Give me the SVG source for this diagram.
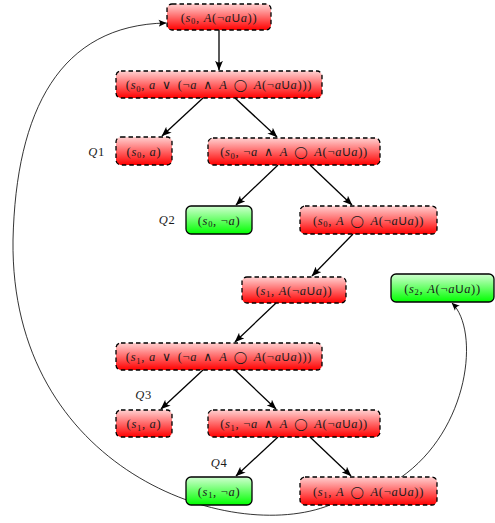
<svg xmlns="http://www.w3.org/2000/svg" width="495" height="523" viewBox="0 0 495 523">
<defs>
<linearGradient id="gr" x1="0" y1="0" x2="0" y2="1">
<stop offset="0" stop-color="#ffd0d0"/>
<stop offset="1" stop-color="#ff0000"/>
</linearGradient>
<linearGradient id="gg" x1="0" y1="0" x2="0" y2="1">
<stop offset="0" stop-color="#d0ffd0"/>
<stop offset="1" stop-color="#00ff00"/>
</linearGradient>
<marker id="ah" viewBox="0 0 10 8" refX="9.5" refY="4" markerWidth="10" markerHeight="8" markerUnits="userSpaceOnUse" orient="auto">
<path d="M0,0 Q4,4 0,8 L10,4 Z" fill="#000"/>
</marker>
<marker id="as" viewBox="0 0 8 8" refX="7.5" refY="4" markerWidth="8" markerHeight="8" markerUnits="userSpaceOnUse" orient="auto">
<path d="M0,0.5 Q3,4 0,7.5 L8,4 Z" fill="#000"/>
</marker>
</defs>
<style>
.r{fill:url(#gr);stroke:#000;stroke-width:1.3;stroke-dasharray:4.5 3}
.g{fill:url(#gg);stroke:#000;stroke-width:1.3}
text{font-family:"Liberation Serif","DejaVu Serif",serif;font-size:12.5px;fill:#1a1a1a;text-anchor:middle;letter-spacing:0.7px}
.i{font-style:italic}
.sb{font-size:8.5px}
.sf{font-family:"Liberation Sans","DejaVu Sans",sans-serif;font-size:11.5px}
.o{font-family:"DejaVu Sans",sans-serif;font-size:12px}
.e{stroke:#000;stroke-width:1.3;fill:none;marker-end:url(#ah)}
.c{stroke:#000;stroke-width:0.8;fill:none;marker-end:url(#as)}
</style>
<g id="connectors">
<line class="e" x1="219" y1="30" x2="219" y2="70"/>
<line class="e" x1="203" y1="98" x2="162" y2="136"/>
<line class="e" x1="235" y1="98" x2="277" y2="137"/>
<line class="e" x1="278" y1="165" x2="236" y2="205"/>
<line class="e" x1="310" y1="165" x2="352" y2="205"/>
<line class="e" x1="353" y1="234" x2="312" y2="276"/>
<line class="e" x1="276" y1="303" x2="235" y2="342"/>
<line class="e" x1="203" y1="370" x2="161" y2="409"/>
<line class="e" x1="235" y1="370" x2="276" y2="409"/>
<line class="e" x1="278" y1="437" x2="236" y2="476"/>
<line class="e" x1="310" y1="437" x2="351" y2="476"/>
<path class="c" d="M400,478 C470,430 480,330 452,303"/>
<path class="c" d="M330,505 C230,545 10,470 13,240 C16,110 60,25 166,23"/>
</g>
<g id="n1">
<rect class="r" x="167" y="4" width="104" height="26" rx="5"/>
<text x="219" y="21.5">(<tspan class="i">s</tspan><tspan class="sb" dy="2.5">0</tspan><tspan dy="-2.5">, </tspan><tspan class="i">A</tspan>(¬<tspan class="i">a</tspan><tspan class="sf">U</tspan><tspan class="i">a</tspan>))</text>
</g>
<g id="n2">
<rect class="r" x="116" y="71" width="206" height="27" rx="5"/>
<text x="219" y="89">(<tspan class="i">s</tspan><tspan class="sb" dy="2.5">0</tspan><tspan dy="-2.5">, </tspan><tspan class="i">a</tspan><tspan dx="6">∨</tspan><tspan dx="6">(¬</tspan><tspan class="i">a</tspan><tspan dx="6">∧</tspan><tspan class="i" dx="6">A</tspan><tspan class="o" dx="6">◯</tspan><tspan class="i" dx="6">A</tspan>(¬<tspan class="i">a</tspan><tspan class="sf">U</tspan><tspan class="i">a</tspan>)))</text>
</g>
<g id="n3">
<rect class="r" x="116" y="137" width="56" height="28" rx="5"/>
<text x="144" y="155.5">(<tspan class="i">s</tspan><tspan class="sb" dy="2.5">0</tspan><tspan dy="-2.5">, </tspan><tspan class="i">a</tspan>)</text>
</g>
<g id="n4">
<rect class="r" x="208" y="138" width="172" height="27" rx="5"/>
<text x="294" y="156">(<tspan class="i">s</tspan><tspan class="sb" dy="2.5">0</tspan><tspan dy="-2.5">, ¬</tspan><tspan class="i">a</tspan><tspan dx="6">∧</tspan><tspan class="i" dx="6">A</tspan><tspan class="o" dx="6">◯</tspan><tspan class="i" dx="6">A</tspan>(¬<tspan class="i">a</tspan><tspan class="sf">U</tspan><tspan class="i">a</tspan>))</text>
</g>
<g id="n5">
<rect class="g" x="186" y="206" width="66" height="28" rx="5"/>
<text x="219" y="224.5">(<tspan class="i">s</tspan><tspan class="sb" dy="2.5">0</tspan><tspan dy="-2.5">, ¬</tspan><tspan class="i">a</tspan>)</text>
</g>
<g id="n6">
<rect class="r" x="300" y="206" width="137" height="28" rx="5"/>
<text x="368.5" y="224.5">(<tspan class="i">s</tspan><tspan class="sb" dy="2.5">0</tspan><tspan dy="-2.5">, </tspan><tspan class="i">A</tspan><tspan class="o" dx="6">◯</tspan><tspan class="i" dx="6">A</tspan>(¬<tspan class="i">a</tspan><tspan class="sf">U</tspan><tspan class="i">a</tspan>))</text>
</g>
<g id="n7">
<rect class="r" x="242" y="277" width="104" height="26" rx="5"/>
<text x="294" y="294.5">(<tspan class="i">s</tspan><tspan class="sb" dy="2.5">1</tspan><tspan dy="-2.5">, </tspan><tspan class="i">A</tspan>(¬<tspan class="i">a</tspan><tspan class="sf">U</tspan><tspan class="i">a</tspan>))</text>
</g>
<g id="n8">
<rect class="g" x="391" y="274" width="103" height="28" rx="5"/>
<text x="442.5" y="292.5">(<tspan class="i">s</tspan><tspan class="sb" dy="2.5">2</tspan><tspan dy="-2.5">, </tspan><tspan class="i">A</tspan>(¬<tspan class="i">a</tspan><tspan class="sf">U</tspan><tspan class="i">a</tspan>))</text>
</g>
<g id="n9">
<rect class="r" x="116" y="343" width="206" height="27" rx="5"/>
<text x="219" y="361">(<tspan class="i">s</tspan><tspan class="sb" dy="2.5">1</tspan><tspan dy="-2.5">, </tspan><tspan class="i">a</tspan><tspan dx="6">∨</tspan><tspan dx="6">(¬</tspan><tspan class="i">a</tspan><tspan dx="6">∧</tspan><tspan class="i" dx="6">A</tspan><tspan class="o" dx="6">◯</tspan><tspan class="i" dx="6">A</tspan>(¬<tspan class="i">a</tspan><tspan class="sf">U</tspan><tspan class="i">a</tspan>)))</text>
</g>
<g id="n10">
<rect class="r" x="116" y="410" width="56" height="27" rx="5"/>
<text x="144" y="428">(<tspan class="i">s</tspan><tspan class="sb" dy="2.5">1</tspan><tspan dy="-2.5">, </tspan><tspan class="i">a</tspan>)</text>
</g>
<g id="n11">
<rect class="r" x="208" y="410" width="172" height="27" rx="5"/>
<text x="294" y="428">(<tspan class="i">s</tspan><tspan class="sb" dy="2.5">1</tspan><tspan dy="-2.5">, ¬</tspan><tspan class="i">a</tspan><tspan dx="6">∧</tspan><tspan class="i" dx="6">A</tspan><tspan class="o" dx="6">◯</tspan><tspan class="i" dx="6">A</tspan>(¬<tspan class="i">a</tspan><tspan class="sf">U</tspan><tspan class="i">a</tspan>))</text>
</g>
<g id="n12">
<rect class="g" x="186" y="477" width="66" height="28" rx="5"/>
<text x="219" y="495.5">(<tspan class="i">s</tspan><tspan class="sb" dy="2.5">1</tspan><tspan dy="-2.5">, ¬</tspan><tspan class="i">a</tspan>)</text>
</g>
<g id="n13">
<rect class="r" x="300" y="477" width="137" height="28" rx="5"/>
<text x="368.5" y="495.5">(<tspan class="i">s</tspan><tspan class="sb" dy="2.5">1</tspan><tspan dy="-2.5">, </tspan><tspan class="i">A</tspan><tspan class="o" dx="6">◯</tspan><tspan class="i" dx="6">A</tspan>(¬<tspan class="i">a</tspan><tspan class="sf">U</tspan><tspan class="i">a</tspan>))</text>
</g>
<g id="labels">
<text x="96.5" y="156"><tspan class="i">Q</tspan>1</text>
<text x="167" y="224"><tspan class="i">Q</tspan>2</text>
<text x="143.5" y="399"><tspan class="i">Q</tspan>3</text>
<text x="219" y="467"><tspan class="i">Q</tspan>4</text>
</g>
</svg>
